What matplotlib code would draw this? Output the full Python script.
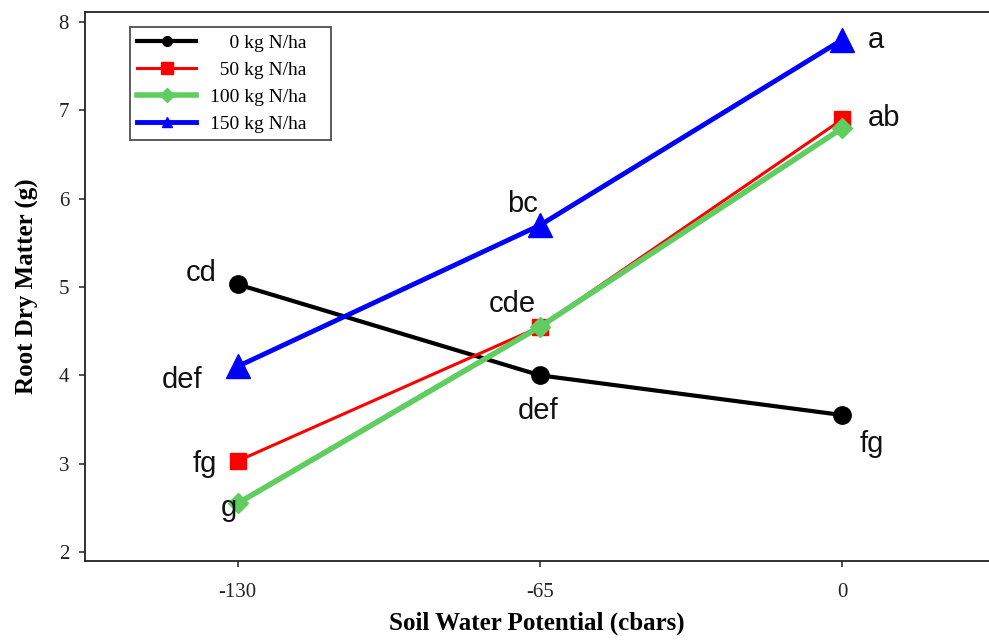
import matplotlib
matplotlib.use("Agg")
import matplotlib.pyplot as plt

# Soil water potential levels (cbars)
potential = [-130, -65, 0]

# Root dry matter (g) by nitrogen rate
root_0 = [5.03, 4.00, 3.55]
root_50 = [3.03, 4.55, 6.90]
root_100 = [2.55, 4.55, 6.80]
root_150 = [4.10, 5.70, 7.80]

series_labels = ["0 kg N/ha", "50 kg N/ha", "100 kg N/ha", "150 kg N/ha"]

# Mean-separation letters: (x, y, text, horizontal alignment)
letters = [
    (5.5, 7.80, "a", "left"),
    (5.5, 6.91, "ab", "left"),
    (3.8, 3.22, "fg", "left"),
    (-65.4, 5.94, "bc", "right"),
    (-71.0, 4.81, "cde", "center"),
    (-65.5, 3.60, "def", "center"),
    (-134.5, 5.16, "cd", "right"),
    (-137.5, 3.95, "def", "right"),
    (-134.5, 3.00, "fg", "right"),
    (-131.8, 2.50, "g", "center"),
]

fig = plt.figure(figsize=(9.89, 6.40), dpi=100)
ax = fig.add_axes([85 / 989, 79 / 640, 904 / 989, 549 / 640])

styles = [
    dict(color="black", lw=3.0, marker="o", ms=12.5, lms=7),
    dict(color="#ff0000", lw=2.2, marker="s", ms=12, lms=8),
    dict(color="#5fcd5f", lw=4.0, marker="D", ms=10.5, lms=7),
    dict(color="#0000ff", lw=3.5, marker="^", ms=17, lms=7),
]
data = [root_0, root_50, root_100, root_150]
for vals, st in zip(data, styles):
    ax.plot(potential, vals, color=st["color"], lw=st["lw"],
            marker=st["marker"], ms=st["ms"], mec=st["color"],
            mfc=st["color"], solid_capstyle="butt")

for x, y, t, ha in letters:
    ax.text(x, y, t, ha=ha, va="center", fontsize=21,
            family=["Liberation Sans", "DejaVu Sans"], color="#111111")

ax.set_xlim(-162.8, 31.5)
ax.set_ylim(1.898, 8.113)
ax.set_xticks(potential)
ax.set_xticklabels([str(p) for p in potential])
ax.set_yticks([2, 3, 4, 5, 6, 7, 8])

serif = ["Liberation Serif", "DejaVu Serif"]
for lab in ax.get_xticklabels() + ax.get_yticklabels():
    lab.set_family(serif)
    lab.set_fontsize(15)
    lab.set_color("#222222")

ax.tick_params(direction="out", length=4.5, width=1.1, color="#222222")
ax.tick_params(axis="x", pad=11)
ax.tick_params(axis="y", pad=7)
for sp in ax.spines.values():
    sp.set_linewidth(1.3)
    sp.set_color("#222222")
ax.spines["right"].set_visible(False)

ax.set_xlabel("Soil Water Potential (cbars)", family=serif, fontsize=18,
              fontweight="bold", labelpad=7)
ax.set_ylabel("Root Dry Matter (g)", family=serif, fontsize=18,
              fontweight="bold", labelpad=14)

# Legend with right-aligned labels using figure spaces
fs = "\u2007"
leg_labels = [fs * 2 + series_labels[0], fs + series_labels[1],
              series_labels[2], series_labels[3]]
leg_handles = []
for st in styles:
    h, = ax.plot([], [], color=st["color"], lw=st["lw"], marker=st["marker"],
                 ms=st["lms"], mec=st["color"], mfc=st["color"])
    leg_handles.append(h)
leg = ax.legend(leg_handles, leg_labels, loc="upper left",
                bbox_to_anchor=(0.0498, 0.5, 0.2223, 0.4727), mode="expand",
                borderaxespad=0, prop={"family": serif, "size": 14},
                frameon=True, fancybox=False, edgecolor="#222222",
                handlelength=3.0, handletextpad=0.72, labelspacing=0.48,
                borderpad=0.38)
leg.get_frame().set_linewidth(1.3)

fig.savefig("out.png", dpi=100)
